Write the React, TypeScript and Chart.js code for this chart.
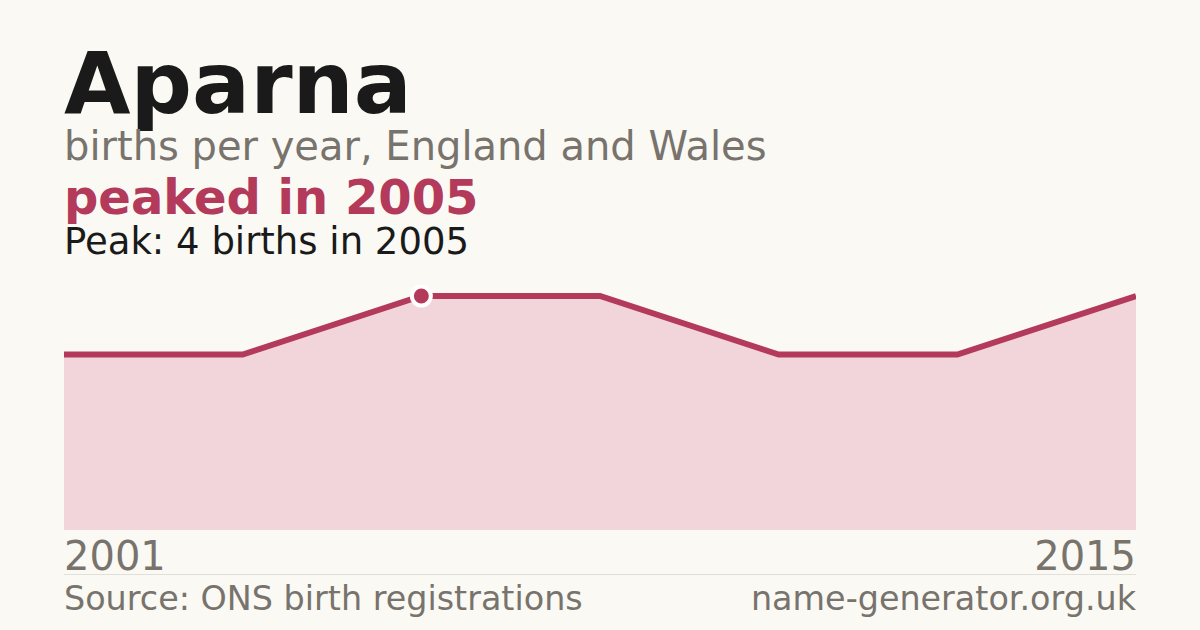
import { useEffect, useRef } from 'react'
import { Chart, registerables } from 'chart.js'

Chart.register(...registerables)

// years with registrations (7 points, evenly spaced on a category axis)
const years = ['2001', '2003', '2005', '2008', '2010', '2012', '2015']
const births = [3, 3, 4, 4, 3, 3, 4]
const peakIndex = 2

const RED = '#b33a5a'
const FILL = '#f1d5da'
const GREY = '#78736c'
const BG = '#faf9f4'
const FONT = '"DejaVu Sans", sans-serif'

function BirthsChart() {
  const canvasRef = useRef<HTMLCanvasElement>(null)
  const chartRef = useRef<Chart | null>(null)

  useEffect(() => {
    if (!canvasRef.current) return
    if (chartRef.current) chartRef.current.destroy()

    chartRef.current = new Chart(canvasRef.current, {
      type: 'line',
      data: {
        labels: years,
        datasets: [
          {
            data: births,
            borderColor: RED,
            backgroundColor: FILL,
            fill: 'origin',
            tension: 0,
            borderWidth: 6,
            clip: false,
            pointRadius: (ctx) => (ctx.dataIndex === peakIndex ? 9.5 : 0),
            pointBackgroundColor: RED,
            pointBorderColor: '#ffffff',
            pointBorderWidth: 4,
            pointHoverRadius: 0,
          },
        ],
      },
      options: {
        animation: false,
        responsive: true,
        maintainAspectRatio: false,
        layout: { padding: { top: 16, left: 0, right: 0, bottom: 0 } },
        plugins: { legend: { display: false }, tooltip: { enabled: false } },
        scales: {
          x: { display: false },
          y: { display: false, min: 0, max: 4 },
        },
      },
    })

    return () => { chartRef.current?.destroy() }
  }, [])

  return <canvas ref={canvasRef} />
}

const text = (top: number, size: number, extra: React.CSSProperties = {}): React.CSSProperties => ({
  position: 'absolute',
  top,
  left: 64,
  margin: 0,
  fontSize: size,
  lineHeight: 'normal',
  fontFamily: FONT,
  whiteSpace: 'nowrap',
  ...extra,
})

export default function App() {
  return (
    <div style={{ position: 'fixed', left: 0, top: 0, width: 1200, height: 630, background: BG, overflow: 'hidden' }}>
      <div style={text(33, 86, { fontWeight: 'bold', color: '#1a1a1a' })}>Aparna</div>
      <div style={text(123, 40, { color: GREY })}>births per year, England and Wales</div>
      <div style={text(168.5, 48, { fontWeight: 'bold', color: RED })}>peaked in 2005</div>
      <div style={text(219.7, 37, { color: '#1a1a1a' })}>Peak: 4 births in 2005</div>

      <div style={{ position: 'absolute', left: 64, top: 280, width: 1072, height: 250 }}>
        <BirthsChart />
      </div>

      <div style={text(533, 40, { color: GREY })}>{years[0]}</div>
      <div style={text(533, 40, { color: GREY, left: 'auto', right: 64 })}>{years[years.length - 1]}</div>
      <div style={{ position: 'absolute', left: 64, top: 574, width: 1072, height: 1, background: '#e2dfd8' }} />
      <div style={text(579, 33.4, { color: GREY })}>Source: ONS birth registrations</div>
      <div style={text(579, 33.4, { color: GREY, left: 'auto', right: 64 })}>name-generator.org.uk</div>
    </div>
  )
}
